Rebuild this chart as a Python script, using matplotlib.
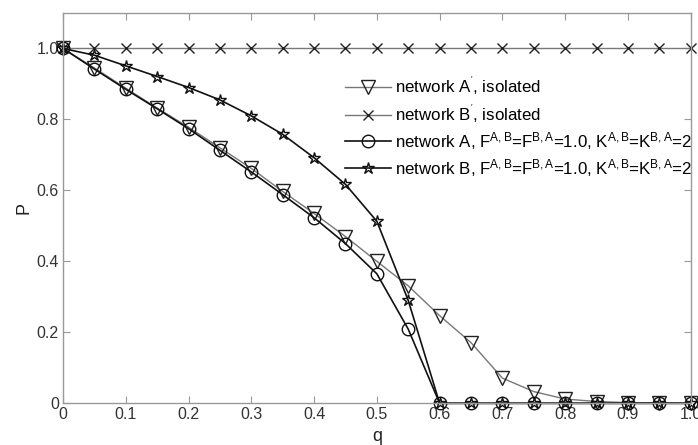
import matplotlib
matplotlib.use("Agg")
import matplotlib.pyplot as plt

plt.rcParams["font.family"] = ["Liberation Sans", "DejaVu Sans"]
plt.rcParams["mathtext.fontset"] = "custom"
plt.rcParams["mathtext.rm"] = "Liberation Sans"
plt.rcParams["mathtext.it"] = "Liberation Sans:italic"

q = [0.0, 0.05, 0.1, 0.15, 0.2, 0.25, 0.3, 0.35, 0.4, 0.45, 0.5,
     0.55, 0.6, 0.65, 0.7, 0.75, 0.8, 0.85, 0.9, 0.95, 1.0]

# isolated networks
p_a_iso = [1.0, 0.945, 0.888, 0.832, 0.778, 0.72, 0.662, 0.597, 0.535, 0.47, 0.40,
           0.331, 0.247, 0.171, 0.071, 0.033, 0.012, 0.005, 0.002, 0.001, 0.0]
p_b_iso = [1.0] * 21

# coupled networks
p_a = [1.0, 0.942, 0.885, 0.83, 0.774, 0.713, 0.652, 0.588, 0.523, 0.45, 0.365,
       0.209, 0.0, 0.0, 0.0, 0.0, 0.0, 0.0, 0.0, 0.0, 0.0]
p_b = [1.0, 0.981, 0.951, 0.921, 0.89, 0.855, 0.81, 0.758, 0.692, 0.617, 0.513,
       0.29, 0.0, 0.0, 0.0, 0.0, 0.0, 0.0, 0.0, 0.0, 0.0]

labels = [
    r"network A$^{'}$, isolated",
    r"network B$^{'}$, isolated",
    r"network A, F$^{\mathregular{A,B}}$=F$^{\mathregular{B,A}}$=1.0, K$^{\mathregular{A,B}}$=K$^{\mathregular{B,A}}$=2",
    r"network B, F$^{\mathregular{A,B}}$=F$^{\mathregular{B,A}}$=1.0, K$^{\mathregular{A,B}}$=K$^{\mathregular{B,A}}$=2",
]

fig = plt.figure(figsize=(6.98, 4.45), dpi=100)
ax = fig.add_axes([0.0903, 0.0937, 0.8992, 0.8771])

ax.plot(q, p_a_iso, color="#777777", lw=1.0, marker="v", ms=10, mfc="none",
        mec="#222222", mew=1.0, clip_on=False, label=labels[0])
ax.plot(q, p_b_iso, color="#777777", lw=1.0, marker="x", ms=7, mec="#222222",
        mew=1.0, clip_on=False, label=labels[1])
ax.plot(q, p_a, color="#111111", lw=1.2, marker="o", ms=9, mfc="none",
        mec="#111111", mew=1.0, clip_on=False, label=labels[2])
ax.plot(q, p_b, color="#111111", lw=1.2, marker="*", ms=9, mfc="none",
        mec="#111111", mew=1.0, clip_on=False, label=labels[3])

ax.set_xlim(0, 1.0)
ax.set_ylim(0, 1.1)
ax.set_xticks([0, 0.1, 0.2, 0.3, 0.4, 0.5, 0.6, 0.7, 0.8, 0.9, 1.0])
ax.set_xticklabels(["0", "0.1", "0.2", "0.3", "0.4", "0.5", "0.6", "0.7", "0.8", "0.9", "1.0"])
ax.set_yticks([0, 0.2, 0.4, 0.6, 0.8, 1.0])
ax.set_yticklabels(["0", "0.2", "0.4", "0.6", "0.8", "1.0"])
ax.tick_params(direction="in", top=True, right=True, length=5, width=0.8,
               color="#999999", labelsize=11.5, labelcolor="#333333", pad=3)
for s in ax.spines.values():
    s.set_color("#999999")
    s.set_linewidth(1.0)

ax.set_xlabel("q", fontsize=13, color="#222222", labelpad=4)
ax.set_ylabel("P", fontsize=13, color="#222222", labelpad=3)

ax.legend(loc="upper left", bbox_to_anchor=(0.449, 0.842), frameon=False,
          fontsize=12.2, numpoints=1, handlelength=2.7, handletextpad=0.25,
          labelspacing=0.3, borderaxespad=0, borderpad=0)

fig.savefig("out.png", dpi=100)
